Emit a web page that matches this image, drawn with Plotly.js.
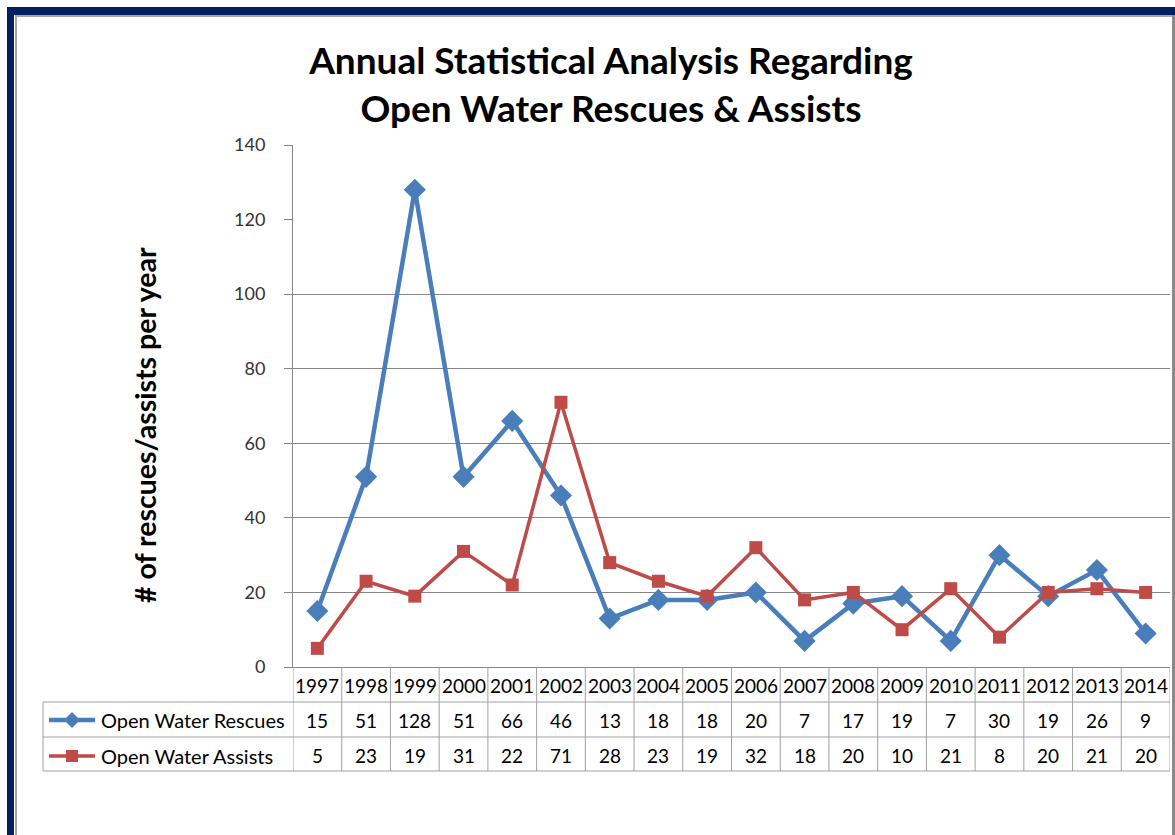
<!DOCTYPE html>
<html>
<head>
<meta charset="utf-8">
<script src="https://cdn.plot.ly/plotly-3.0.1.min.js"></script>
<style>html,body{margin:0;padding:0;background:#fff;}#chart{width:1175px;height:835px;}</style>
</head>
<body>
<div id="chart"></div>
<script>
const years = ['1997','1998','1999','2000','2001','2002','2003','2004','2005','2006','2007','2008','2009','2010','2011','2012','2013','2014'];
const rescues = [15,51,128,51,66,46,13,18,18,20,7,17,19,7,30,19,26,9];
const assists = [5,23,19,31,22,71,28,23,19,32,18,20,10,21,8,20,21,20];
const seriesNames = ['Open Water Rescues','Open Water Assists'];
const seriesColors = ['#4A7EBB','#BE4B48'];
const yTickVals = [0,20,40,60,80,100,120,140];
const gridVals = [20,40,60,80,100];
const chartTitle = 'Annual Statistical Analysis Regarding<br>Open Water Rescues &amp; Assists';
const yTitle = '# of rescues/assists per year';

const FONT = 'Lato, "Open Sans", sans-serif';
const L = 293, R = 1170, T = 145, B = 667;
const PX = p => (p - L) / (R - L);
const PY = p => (B - p) / (B - T);
const tableLine = '#A0A0A0';

const traces = [
  {x: years, y: rescues, name: seriesNames[0], type: 'scatter', mode: 'lines+markers', yaxis: 'y',
   line: {color: seriesColors[0], width: 4.5}, marker: {symbol: 'diamond', size: 17, color: seriesColors[0]}},
  {x: years, y: assists, name: seriesNames[1], type: 'scatter', mode: 'lines+markers', yaxis: 'y2',
   line: {color: seriesColors[1], width: 3.5}, marker: {symbol: 'square', size: 13, color: seriesColors[1]}}
];

const shapes = [];
const annotations = [];
function rect(x0,y0,x1,y1,color){shapes.push({type:'rect',xref:'paper',yref:'paper',x0:PX(x0),x1:PX(x1),y0:PY(y0),y1:PY(y1),fillcolor:color,line:{width:0},layer:'above'});}
function hline(x0,x1,y,color){shapes.push({type:'line',xref:'paper',yref:'paper',x0:PX(x0),x1:PX(x1),y0:PY(y),y1:PY(y),line:{color:color,width:1}});}

// frame
rect(7,7,1175,15,'#002060');
rect(7,7,14,835,'#002060');
rect(15,15,1172,17,'#A6A6A6');
rect(15,15,17,835,'#A6A6A6');
rect(1172,15,1175,835,'#8A8A8A');

// data table grid
const rowY = [667, 702, 737, 771];
hline(43, R, rowY[1], tableLine);
hline(43, R, rowY[2], tableLine);
hline(43, R, rowY[3], tableLine);
shapes.push({type:'line',xref:'paper',yref:'paper',x0:PX(43),x1:PX(43),y0:PY(rowY[1]),y1:PY(rowY[3]),line:{color:tableLine,width:1}});
for (let i = 0; i <= years.length; i++) {
  shapes.push({type:'line',xref:'x',yref:'paper',x0:i-0.5,x1:i-0.5,y0:PY(rowY[0]),y1:PY(rowY[3]),line:{color:tableLine,width:1}});
}
const cellFont = {family: FONT, size: 19, color: '#000'};
const nameFont = {family: FONT, size: 20, color: '#000'};
const rowCenters = [685, 720, 756];
years.forEach((yr, i) => {
  annotations.push({xref:'x',yref:'paper',x:i,y:PY(rowCenters[0]),text:yr,showarrow:false,font:cellFont,xanchor:'center',yanchor:'middle'});
  annotations.push({xref:'x',yref:'paper',x:i,y:PY(rowCenters[1]),text:String(rescues[i]),showarrow:false,font:cellFont,xanchor:'center',yanchor:'middle'});
  annotations.push({xref:'x',yref:'paper',x:i,y:PY(rowCenters[2]),text:String(assists[i]),showarrow:false,font:cellFont,xanchor:'center',yanchor:'middle'});
});
// legend keys in table
[0,1].forEach(k => {
  const cy = rowCenters[k+1];
  shapes.push({type:'line',xref:'paper',yref:'paper',x0:PX(49),x1:PX(95),y0:PY(cy),y1:PY(cy),line:{color:seriesColors[k],width:k===0?4.5:3.5}});
  if (k === 0) {
    const cx = 72, h = 8;
    shapes.push({type:'path',xref:'paper',yref:'paper',
      path:`M ${PX(cx-h)} ${PY(cy)} L ${PX(cx)} ${PY(cy-h)} L ${PX(cx+h)} ${PY(cy)} L ${PX(cx)} ${PY(cy+h)} Z`,
      fillcolor:seriesColors[k],line:{width:0}});
  } else {
    rect(66,cy-6,78,cy+6,seriesColors[k]);
  }
  annotations.push({xref:'paper',yref:'paper',x:PX(99),y:PY(cy),text:seriesNames[k],showarrow:false,font:nameFont,xanchor:'left',yanchor:'middle'});
});

// y axis title
annotations.push({xref:'paper',yref:'paper',x:PX(145),y:PY(425),text:yTitle,textangle:-90,showarrow:false,
  font:{family:FONT,size:28.5,color:'#000',weight:'bold'},xanchor:'center',yanchor:'middle'});

const layout = {
  width: 1175, height: 835, autosize: false,
  margin: {l: L, r: 1175 - R, t: T, b: 835 - B, pad: 0},
  paper_bgcolor: '#fff', plot_bgcolor: '#fff',
  showlegend: false,
  title: {text: chartTitle, x: 0.52, xanchor: 'center', xref: 'container', y: 1 - 74/835, yanchor: 'top', yref: 'container',
    font: {family: FONT, size: 37, color: '#000', weight: 'bold'}},
  xaxis: {type: 'category', range: [-0.5, years.length - 0.5], showticklabels: false, ticks: '',
    showline: true, linecolor: '#868686', linewidth: 1, showgrid: false, zeroline: false, fixedrange: true},
  yaxis: {range: [0, 140], tickvals: yTickVals, ticks: 'outside', ticklen: 8,
    tickcolor: '#868686', showline: true, linecolor: '#868686', linewidth: 1, showgrid: false, zeroline: false,
    tickfont: {family: FONT, size: 18, color: '#333333'}, ticklabelstandoff: 15, fixedrange: true},
  yaxis2: {overlaying: 'y', side: 'left', anchor: 'x', range: [0, 140], tickvals: gridVals, showgrid: true, gridcolor: '#868686', gridwidth: 1,
    showticklabels: false, ticks: '', showline: false, zeroline: false, fixedrange: true},
  shapes: shapes,
  annotations: annotations
};

Plotly.newPlot('chart', traces, layout, {displayModeBar: false, staticPlot: true});
</script>
</body>
</html>
